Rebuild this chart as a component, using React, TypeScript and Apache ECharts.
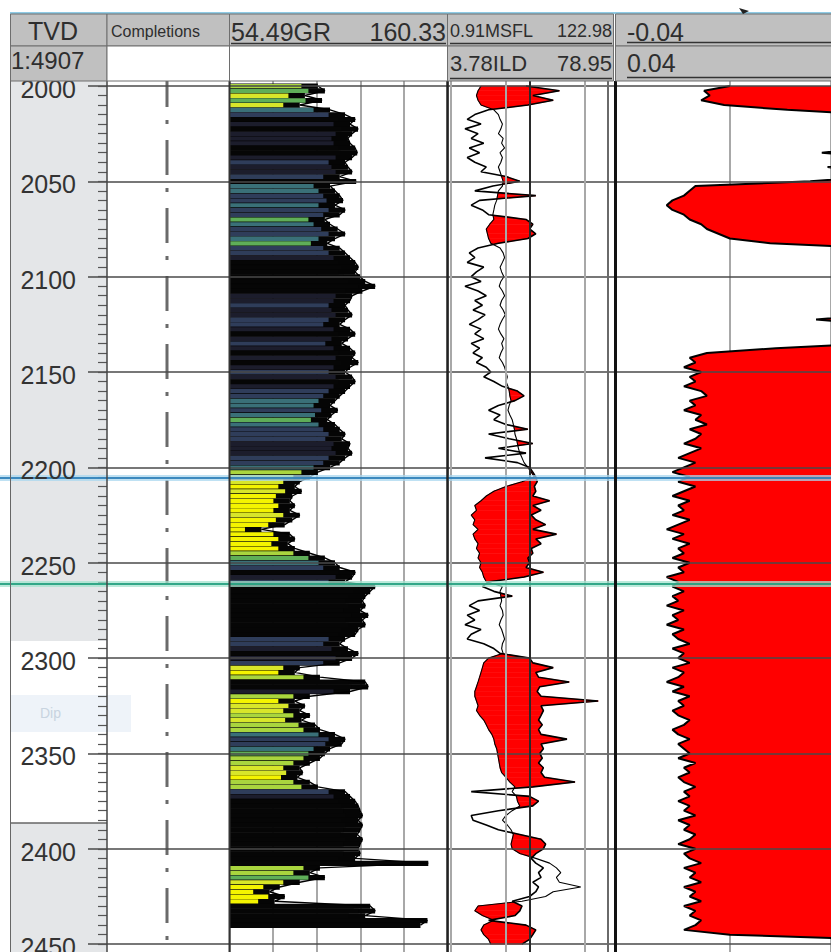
import React, { useEffect, useRef } from "react";
import * as echarts from "echarts";

// ---------------- data ----------------
const DEPTH_START = 2000;
const DEPTH_STEP = 2.5;
const DEPTH_MIN = 1997.4;
const DEPTH_MAX = 2454.1;
const DEPTH_LABELS = [2000, 2050, 2100, 2150, 2200, 2250, 2300, 2350, 2400, 2450];
const MINOR_TICK_STEP = 5;

const GR_RANGE = [54.49, 160.33];
const MSFL_RANGE = [0.91, 122.98];
const ILD_RANGE = [3.78, 78.95];
const T5_RANGE = [-0.04, 0.04];
const T5_VIEW_MAX = -0.0024; // right edge of the visible part of the last track
const RES_GRID = [1, 5, 10, 50, 100];
const RES_GRID_DARK = [10, 100];
const SCALE_TEXT = "1:4907";

const TOPS = [
  { depth: 2205.3, color: "#2f7fb8", halo: "#a9d7ef" },
  { depth: 2261.2, color: "#23a07e", halo: "#a6e3cf" },
];

// GR, 2000 -> 2450 every 2.5
const GR = [
  97.4, 100.8, 91.1, 99.4, 88.6, 103.3, 110.6, 115.5, 113.0, 116.9,
  114.0, 112.0, 113.0, 115.5, 116.5, 114.0, 110.6, 112.0, 114.0, 108.0,
  116.0, 103.3, 105.7, 108.0, 109.6, 105.7, 110.6, 108.0, 100.8, 103.3,
  107.0, 110.6, 105.7, 102.0, 108.0, 110.6, 113.0, 115.5, 117.0, 115.5,
  117.9, 120.4, 125.2, 119.0, 114.0, 113.0, 110.6, 112.0, 114.0, 110.6,
  108.0, 113.0, 115.5, 112.0, 109.0, 113.0, 115.5, 114.0, 117.0, 113.0,
  110.6, 114.0, 115.5, 113.0, 110.6, 108.0, 105.7, 103.3, 107.0, 104.0,
  102.0, 105.7, 108.0, 110.6, 109.0, 113.0, 112.0, 114.0, 110.6, 108.0,
  103.3, 97.4, 93.5, 88.6, 86.2, 89.5, 85.0, 83.8, 86.2, 83.8,
  88.6, 85.0, 81.3, 70.0, 83.8, 86.2, 82.8, 86.2, 93.5, 100.8,
  105.7, 108.0, 115.5, 114.0, 110.6, 125.2, 122.8, 120.4, 119.0, 120.4,
  117.9, 121.8, 119.0, 120.4, 117.0, 115.5, 110.6, 108.0, 112.0, 117.0,
  114.0, 108.0, 88.6, 86.2, 98.4, 120.4, 121.8, 113.0, 93.5, 86.2,
  91.1, 88.6, 93.5, 89.5, 96.0, 98.4, 105.7, 110.6, 109.0, 103.3,
  100.8, 98.4, 93.5, 88.6, 90.0, 87.5, 93.5, 97.4, 110.6, 113.0,
  115.5, 117.0, 117.9, 119.0, 117.0, 119.0, 117.9, 116.5, 119.0, 117.9,
  117.0, 117.9, 115.5, 151.0, 98.4, 93.5, 100.8, 88.6, 78.9, 74.0,
  81.3, 76.4, 122.8, 125.2, 120.4, 150.6, 147.2, null, null, null,
  null,
];

const MSFL = [
  9.0, 24, 11, 20, 9.5, 3.0, 2.0, 1.6, 2.4, 1.5,
  2.2, 1.8, 2.6, 1.7, 2.3, 1.6, 2.0, 2.8, 2.4, 5.0,
  7.5, 3.4, 2.0, 12, 2.3, 1.8, 2.5, 3.0, 9.0, 11,
  10, 12, 9.5, 4.0, 2.2, 1.7, 2.0, 1.6, 2.6, 2.1,
  1.8, 2.4, 1.5, 2.2, 2.8, 2.0, 2.5, 1.9, 2.7, 2.2,
  1.7, 2.4, 2.0, 2.6, 1.8, 2.3, 1.9, 2.5, 2.1, 2.8,
  3.2, 2.6, 3.5, 4.5, 7.0, 8.5, 6.5, 4.0, 3.0, 4.2,
  3.5, 5.0, 9.5, 3.0, 5.5, 11, 4.0, 9.0, 2.7, 7.0,
  10, 11, 12, 12.5, 11.5, 12, 11, 18, 11, 14,
  10.5, 12, 16, 11, 22, 12, 14, 10.5, 11, 9.5,
  10, 9.0, 15, 8.5, 3.0, 2.5, 3.5, 6.0, 2.2, 1.7,
  2.3, 1.6, 2.0, 1.5, 2.4, 1.8, 1.6, 2.6, 3.5, 4.2,
  10, 11, 20, 12, 13, 32, 13.5, 12.5, 14, 75,
  14, 15, 14, 13, 14.5, 13, 14, 30, 14, 15,
  13.5, 14.5, 13, 15, 14, 15.5, 38, 11, 1.8, 10,
  13, 11, 4.0, 1.8, 1.9, 2.8, 4.0, 7.5, 14, 16,
  15, 12, 10.5, 12, 15, 13, 14, 11, 13, 12,
  10, 6.0, 8.0, 7.5, 6.5, 3.0, 9.0, 12, 11, 10,
  8,
];

const ILD = [
  2.4, 2.2, 2.1, 2.2, 2.4, 3.5, 4.0, 4.2, 4.5, 4.3,
  4.0, 4.6, 4.4, 4.8, 4.2, 4.5, 4.3, 4.0, 4.2, 4.4,
  4.6, 4.5, 4.0, 3.9, 3.8, 3.6, 3.5, 3.4, 3.5, 3.1,
  2.8, 2.9, 3.0, 3.2, 4.2, 4.6, 4.8, 4.5, 4.2, 4.4,
  4.7, 4.3, 4.1, 4.5, 4.8, 4.4, 4.2, 4.6, 4.9, 4.5,
  4.2, 4.0, 4.3, 4.7, 4.4, 4.6, 4.3, 4.1, 4.5, 4.8,
  5.0, 5.2, 5.0, 5.3, 5.5, 5.6, 5.8, 5.5, 5.3, 5.6,
  6.0, 6.2, 6.4, 6.5, 6.8, 7.0, 7.2, 7.5, 8.0, 8.5,
  9.5, 10.5, 11.5, 8.0, 5.0, 3.5, 2.8, 2.4, 2.0, 2.1,
  1.8, 2.0, 1.9, 2.2, 1.9, 2.0, 2.2, 2.1, 2.3, 2.2,
  2.4, 2.3, 2.5, 2.6, 2.8, 4.5, 4.2, 4.3, 4.4, 4.2,
  4.5, 4.6, 4.3, 4.1, 4.4, 4.6, 4.8, 4.5, 4.4, 4.6,
  3.0, 2.6, 2.5, 2.4, 2.3, 2.2, 2.1, 2.0, 2.0, 2.1,
  2.2, 2.1, 2.3, 2.6, 2.8, 3.0, 3.3, 3.5, 3.6, 3.8,
  3.9, 4.0, 4.1, 4.2, 4.4, 5.0, 5.6, 6.5, 6.0, 6.8,
  7.0, 7.5, 6.0, 5.0, 4.5, 5.2, 5.8, 6.2, 6.0, 5.8,
  6.0, 7.5, 12, 18, 22, 25, 22, 24, 45, 20,
  16, 8.0, 2.2, 2.0, 2.5, 3.5, 2.6, 2.4, 2.6, 3.0,
  3.2,
];

const T5 = [
  -0.02, -0.0245, -0.0235, -0.025, -0.021, -0.01, 0.005, 0.005, 0.005, 0.005,
  0.005, 0.005, 0.005, 0.005, -0.004, 0.005, 0.005, -0.003, 0.005, 0.005,
  -0.006, -0.026, -0.027, -0.028, -0.03, -0.031, -0.03, -0.028, -0.027, -0.025,
  -0.024, -0.022, -0.02, -0.013, 0.005, 0.005, 0.005, 0.005, 0.005, 0.005,
  0.005, 0.005, 0.005, 0.005, 0.005, 0.005, 0.005, 0.005, 0.005, -0.005,
  0.005, 0.005, 0.005, 0.005, 0.005, -0.012, -0.024, -0.027, -0.026, -0.028,
  -0.025, -0.027, -0.026, -0.028, -0.025, -0.024, -0.027, -0.026, -0.028, -0.025,
  -0.026, -0.024, -0.027, -0.025, -0.026, -0.028, -0.025, -0.027, -0.029, -0.026,
  -0.028, -0.03, -0.027, -0.029, -0.026, -0.028, -0.03, -0.027, -0.029, -0.028,
  -0.03, -0.027, -0.029, -0.031, -0.028, -0.03, -0.027, -0.029, -0.028, -0.03,
  -0.027, -0.029, -0.028, -0.031, -0.029, -0.03, -0.028, -0.03, -0.029, -0.031,
  -0.028, -0.03, -0.029, -0.031, -0.028, -0.03, -0.029, -0.027, -0.03, -0.028,
  -0.029, -0.027, -0.03, -0.028, -0.029, -0.031, -0.028, -0.03, -0.027, -0.029,
  -0.028, -0.03, -0.029, -0.027, -0.028, -0.03, -0.029, -0.027, -0.029, -0.028,
  -0.027, -0.029, -0.026, -0.028, -0.027, -0.029, -0.028, -0.026, -0.028, -0.027,
  -0.029, -0.027, -0.028, -0.026, -0.029, -0.027, -0.028, -0.026, -0.027, -0.029,
  -0.026, -0.028, -0.027, -0.025, -0.028, -0.026, -0.027, -0.025, -0.028, -0.026,
  -0.027, -0.025, -0.028, -0.026, -0.027, -0.025, -0.026, -0.028, -0.02, 0.005,
  0.005,
];

// ---------------- styling helpers ----------------
const FONT = "'Liberation Sans', Arial, Helvetica, sans-serif";
const GR_EDGE = 8; // GR units of black edge before curve

function grColor(v: number): string {
  if (v < 88) return "#f4f400";
  if (v < 93) return "#d8e62a";
  if (v < 99) return "#a9d53e";
  if (v < 103) return "#5fae58";
  if (v < 107) return "#3a7078";
  if (v < 111) return "#2f3d5a";
  if (v < 115) return "#1c1d2c";
  return "#060606";
}

export default function App() {
  const ref = useRef<HTMLDivElement>(null);

  useEffect(() => {
    document.body.style.margin = "0";
    const chart = echarts.init(ref.current!, null, { renderer: "svg" });
    const N = GR.length;
    const DEPTHS = Array.from({ length: N }, (_, i) => DEPTH_START + i * DEPTH_STEP);

    const TOP = 81;
    const H = 871;

    const minorTicks: number[] = [];
    for (let d = DEPTH_LABELS[0]; d <= DEPTH_LABELS[DEPTH_LABELS.length - 1]; d += MINOR_TICK_STEP) minorTicks.push(d);

    const grData = DEPTHS.map((d, i) => [GR[i], d]).filter((p) => p[0] !== null);
    const yAxisBase = (gridIndex: number) => ({
      type: "value",
      gridIndex,
      min: DEPTH_MIN,
      max: DEPTH_MAX,
      inverse: true,
      show: false,
    });

    const graphic: any[] = [];
    // depth track background
    graphic.push({ type: "rect", z: -10, shape: { x: 10, y: TOP, width: 97, height: 560 }, style: { fill: "#e4e6e8" } });
    graphic.push({ type: "rect", z: -10, shape: { x: 10, y: 823, width: 97, height: 129 }, style: { fill: "#e4e6e8" } });
    graphic.push({ type: "line", z: -9, shape: { x1: 10, y1: 823, x2: 107, y2: 823 }, style: { stroke: "#666", lineWidth: 1.5 } });
    graphic.push({ type: "rect", z: -9, shape: { x: 11, y: 695, width: 120, height: 37 }, style: { fill: "#eef3f9" } });
    graphic.push({ type: "text", z: -8, x: 40, y: 713, style: { text: "Dip", font: `14px ${FONT}`, fill: "#c8d4e0", verticalAlign: "middle" } });

    // completion dash-dot line
    graphic.push({
      type: "line", z: 5,
      shape: { x1: 167, y1: TOP, x2: 167, y2: 952 },
      style: { stroke: "#6a6a6a", lineWidth: 3, lineDash: [35, 13, 4, 16], lineDashOffset: 9 },
    });

    // vertical borders
    const vb = (x: number, color: string, w: number, y1 = TOP) =>
      graphic.push({ type: "line", z: 50, shape: { x1: x, y1, x2: x, y2: 952 }, style: { stroke: color, lineWidth: w } });
    vb(10.5, "#666", 1, 14);
    vb(107, "#444", 1.5);
    vb(229.5, "#333", 2);
    vb(447.5, "#222", 2.5);
    vb(615.5, "#111", 3);

    // header
    const HZ = 100;
    graphic.push({ type: "line", z: HZ, shape: { x1: 10, y1: 13, x2: 831, y2: 13 }, style: { stroke: "#8fcbe5", lineWidth: 2 } });
    graphic.push({ type: "polygon", z: HZ + 2, shape: { points: [[739, 8], [749, 11], [743, 14]] }, style: { fill: "#222" } });
    const box = (x: number, y: number, w: number, h: number, fill: string) =>
      graphic.push({ type: "rect", z: HZ, shape: { x, y, width: w, height: h }, style: { fill, stroke: "#6e6e6e", lineWidth: 1 } });
    const R1 = 14, R1H = 32, R2 = 46, R2H = 35;
    box(10.5, R1, 96.5, R1H, "#c0c0c0");
    box(107, R1, 122.5, R1H, "#c0c0c0");
    box(229.5, R1, 218, R1H, "#c0c0c0");
    box(447.5, R1, 166, R1H, "#c0c0c0");
    box(615.5, R1, 220, R1H, "#c0c0c0");
    box(10.5, R2, 96.5, R2H, "#c0c0c0");
    box(107, R2, 122.5, R2H, "#ffffff");
    box(229.5, R2, 218, R2H, "#ffffff");
    box(447.5, R2, 166, R2H, "#c0c0c0");
    box(615.5, R2, 220, R2H, "#c0c0c0");
    const txt = (text: string, x: number, y: number, size: number, align = "left") =>
      graphic.push({
        type: "text", z: HZ + 1, x, y,
        style: { text, font: `${size}px ${FONT}`, fill: "#2e2e2e", align, verticalAlign: "middle" },
      });
    txt("TVD", 53, 31, 25, "center");
    txt("Completions", 111, 31, 16);
    txt(`${GR_RANGE[0]}GR`, 231, 32, 25);
    txt(`${GR_RANGE[1]}`, 446, 32, 25, "right");
    txt(`${MSFL_RANGE[0]}MSFL`, 450, 31, 18);
    txt(`${MSFL_RANGE[1]}`, 612, 31, 18, "right");
    txt(`${T5_RANGE[0]}`, 627, 32, 25);
    txt(SCALE_TEXT, 11, 60, 24);
    txt(`${ILD_RANGE[0]}ILD`, 450, 63, 22);
    txt(`${ILD_RANGE[1]}`, 612, 63, 22, "right");
    txt(`${T5_RANGE[1]}`, 627, 63, 25);
    const ul = (x1: number, x2: number, y: number) =>
      graphic.push({ type: "line", z: HZ + 1, shape: { x1, y1: y, x2, y2: y }, style: { stroke: "#333", lineWidth: 1.5 } });
    ul(231, 446, 43.5);
    ul(450, 612, 43.5);
    ul(627, 831, 42.5);
    ul(450, 612, 78.5);
    ul(627, 831, 77.5);

    const option: any = {
      animation: false,
      backgroundColor: "#ffffff",
      grid: [
        { left: 88, top: TOP, width: 743, height: H },
        { left: 98, top: TOP, width: 9, height: H },
        { left: 229.5, top: TOP, width: 218, height: H },
        { left: 448, top: TOP, width: 167, height: H },
        { left: 615, top: TOP, width: 216, height: H },
        { left: 0, top: TOP, width: 831, height: H },
      ],
      xAxis: [
        { type: "value", gridIndex: 0, min: 0, max: 1, show: false },
        { type: "value", gridIndex: 1, min: 0, max: 1, show: false },
        {
          type: "value", gridIndex: 2, min: GR_RANGE[0], max: GR_RANGE[1],
          interval: (GR_RANGE[1] - GR_RANGE[0]) / 5,
          axisLine: { show: false }, axisTick: { show: false }, axisLabel: { show: false },
          splitLine: { show: true, lineStyle: { color: "#a8a8a8", width: 2 } },
        },
        { type: "log", gridIndex: 3, min: MSFL_RANGE[0], max: MSFL_RANGE[1], logBase: 10, show: false },
        {
          type: "value", gridIndex: 4, min: T5_RANGE[0], max: T5_VIEW_MAX, interval: 0.02,
          axisLine: { show: false }, axisTick: { show: false }, axisLabel: { show: false },
          splitLine: { show: true, lineStyle: { color: "#a8a8a8", width: 2 } },
        },
        { type: "value", gridIndex: 5, min: 0, max: 1, show: false },
      ],
      yAxis: [yAxisBase(0), yAxisBase(1), yAxisBase(2), yAxisBase(3), yAxisBase(4), yAxisBase(5)],
      graphic,
      series: [
        {
          type: "line", xAxisIndex: 0, yAxisIndex: 0, data: [], z: 1,
          markLine: {
            silent: true, symbol: ["none", "none"],
            lineStyle: { color: "#4a4a4a", width: 1.5, type: "solid" },
            label: {
              show: true, position: "start", distance: 12, formatter: "{c}", offset: [0, 3],
              fontSize: 25, color: "#333", fontFamily: FONT,
            },
            data: DEPTH_LABELS.map((d) => ({ yAxis: d })),
          },
        },
        {
          type: "line", xAxisIndex: 1, yAxisIndex: 1, data: [], z: 1,
          markLine: {
            silent: true, symbol: ["none", "none"], label: { show: false },
            lineStyle: { color: "#555", width: 1.2, type: "solid" },
            data: minorTicks.map((d) => ({ yAxis: d })),
          },
        },
        {
          type: "line", xAxisIndex: 3, yAxisIndex: 3, data: [], z: 1,
          markLine: {
            silent: true, symbol: ["none", "none"], label: { show: false },
            data: RES_GRID.map((v) => ({
              xAxis: v,
              lineStyle: { color: RES_GRID_DARK.includes(v) ? (v === 10 ? "#2a2a2a" : "#6a6a6a") : "#a8a8a8", width: 2, type: "solid" },
            })),
          },
        },
        {
          name: "GR fill", type: "custom", xAxisIndex: 2, yAxisIndex: 2, z: 2, clip: true,
          data: grData,
          renderItem: (params: any, api: any) => {
            const v = api.value(0);
            const d = api.value(1);
            const p0 = api.coord([GR_RANGE[0], d - DEPTH_STEP / 2]);
            const p1 = api.coord([v, d + DEPTH_STEP / 2]);
            const pm = api.coord([Math.max(GR_RANGE[0], v - GR_EDGE), d]);
            const h = p1[1] - p0[1] + 0.4;
            return {
              type: "group",
              children: [
                { type: "rect", shape: { x: p0[0], y: p0[1], width: p1[0] - p0[0], height: h }, style: { fill: "#050505" } },
                { type: "rect", shape: { x: p0[0], y: p0[1] + 0.4, width: pm[0] - p0[0], height: h - 0.8 }, style: { fill: grColor(v) } },
              ],
            };
          },
        },
        {
          name: "GR", type: "line", xAxisIndex: 2, yAxisIndex: 2, z: 3, data: grData,
          symbol: "none", lineStyle: { color: "#000", width: 1.4 },
        },
        {
          name: "RES fill", type: "custom", xAxisIndex: 3, yAxisIndex: 3, z: 2, clip: true,
          data: DEPTHS.slice(0, N - 1).map((d, i) => [MSFL[i], d, i]),
          renderItem: (params: any, api: any) => {
            const i = api.value(2);
            const j = i + 1;
            const A0 = api.coord([ILD[i], DEPTHS[i]]);
            const B0 = api.coord([MSFL[i], DEPTHS[i]]);
            const A1 = api.coord([ILD[j], DEPTHS[j]]);
            const B1 = api.coord([MSFL[j], DEPTHS[j]]);
            const d0 = B0[0] - A0[0];
            const d1 = B1[0] - A1[0];
            let pts: number[][] | null = null;
            if (d0 > 0 && d1 > 0) pts = [A0, B0, B1, A1];
            else if (d0 > 0 || d1 > 0) {
              const t = d0 / (d0 - d1);
              const C = [A0[0] + t * (A1[0] - A0[0]), A0[1] + t * (A1[1] - A0[1])];
              pts = d0 > 0 ? [A0, B0, C] : [C, B1, A1];
            }
            if (!pts) return null;
            return { type: "polygon", shape: { points: pts }, style: { fill: "#ff0000", stroke: "#ff0000", lineWidth: 0.6 } };
          },
        },
        {
          name: "ILD", type: "line", xAxisIndex: 3, yAxisIndex: 3, z: 3,
          data: DEPTHS.map((d, i) => [ILD[i], d]), symbol: "none",
          lineStyle: { color: "#000", width: 1.1 },
        },
        {
          name: "MSFL", type: "line", xAxisIndex: 3, yAxisIndex: 3, z: 3,
          data: DEPTHS.map((d, i) => [MSFL[i], d]), symbol: "none",
          lineStyle: { color: "#000", width: 1.6 },
        },
        {
          name: "T5 fill", type: "custom", xAxisIndex: 4, yAxisIndex: 4, z: 2, clip: true,
          data: [[T5_RANGE[1], DEPTH_START]],
          renderItem: (params: any, api: any) => {
            const pts = DEPTHS.map((d, i) => api.coord([T5[i], d]));
            pts.push(api.coord([T5_RANGE[1], DEPTHS[N - 1]]));
            pts.push(api.coord([T5_RANGE[1], DEPTHS[0]]));
            return { type: "polygon", shape: { points: pts }, style: { fill: "#ff0000" } };
          },
        },
        {
          name: "T5", type: "line", xAxisIndex: 4, yAxisIndex: 4, z: 3,
          data: DEPTHS.map((d, i) => [T5[i], d]), symbol: "none",
          lineStyle: { color: "#000", width: 2 },
        },
        {
          type: "line", xAxisIndex: 5, yAxisIndex: 5, data: [], z: 20,
          markLine: {
            silent: true, symbol: ["none", "none"], label: { show: false },
            data: TOPS.map((t) => ({ yAxis: t.depth, lineStyle: { color: t.halo, width: 6, opacity: 0.75, type: "solid" } })),
          },
        },
        {
          type: "line", xAxisIndex: 5, yAxisIndex: 5, data: [], z: 21,
          markLine: {
            silent: true, symbol: ["none", "none"], label: { show: false },
            data: TOPS.map((t) => ({ yAxis: t.depth, lineStyle: { color: t.color, width: 2, opacity: 0.9, type: "solid" } })),
          },
        },
      ],
    };

    chart.setOption(option);
    return () => chart.dispose();
  }, []);

  return (
    <div
      ref={ref}
      style={{ width: 831, height: 952, position: "absolute", left: 0, top: 0, background: "#fff" }}
    />
  );
}
